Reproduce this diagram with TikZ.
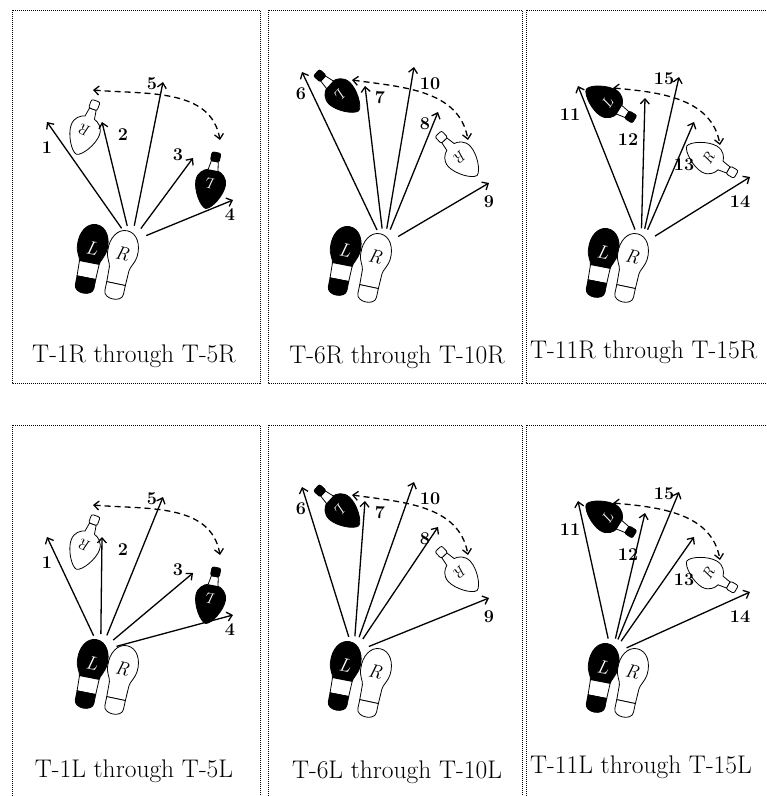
\documentclass[tikz,border=0pt]{standalone}
\usepackage{fontspec}
\usetikzlibrary{arrows.meta}

\tikzset{
  pics/footprint/.style n args={3}{code={
      % standing foot, toe up: sole, arch and heel
      \fill[#1] (0,35) .. controls (10,35) and (16,24) .. (15,12)
        .. controls (14,4) and (10,0) .. (10,-4) -- (-10,-4)
        .. controls (-10,0) and (-15,4) .. (-15,12)
        .. controls (-16,24) and (-10,35) .. (0,35) -- cycle;
      \draw (0,35) .. controls (10,35) and (16,24) .. (15,12)
        .. controls (14,4) and (10,0) .. (10,-4) -- (9.5,-19) -- (-9.5,-19) -- (-10,-4)
        .. controls (-10,0) and (-15,4) .. (-15,12)
        .. controls (-16,24) and (-10,35) .. (0,35) -- cycle;
      \draw[fill=#1] (9.5,-19) -- (9.5,-28) .. controls (9.5,-37) and (-9.5,-37) .. (-9.5,-28) -- (-9.5,-19) -- cycle;
      \node[circle, minimum size=32pt, inner sep=0pt] (-toe) at (6,25) {};
      \node[text=#2, font=\itshape\fontsize{19}{19}\selectfont, transform shape] (-tag) at (0,11) {#3};
  }},
  pics/pivotprint/.style n args={3}{code={
      % turned foot, toe up: sole, waist and heel tip
      \fill[#1] (0,28) .. controls (6,27) and (15,12) .. (15,2)
        .. controls (15,-6) and (9,-10) .. (5,-11) -- (-5,-11)
        .. controls (-9,-10) and (-15,-6) .. (-15,2)
        .. controls (-15,12) and (-6,27) .. (0,28) -- cycle;
      \draw (0,28) .. controls (6,27) and (15,12) .. (15,2)
        .. controls (15,-6) and (9,-10) .. (5,-11) -- (3.5,-20) -- (-3.5,-20) -- (-5,-11)
        .. controls (-9,-10) and (-15,-6) .. (-15,2)
        .. controls (-15,12) and (-6,27) .. (0,28) -- cycle;
      \draw[fill=#1, rounded corners=2pt] (-4.5,-20) rectangle (4.5,-29);
      \node[text=#2, font=\itshape\fontsize{15}{15}\selectfont, transform shape] (-tag) at (0,3) {#3};
  }}
}

\begin{document}
\begin{tikzpicture}[x=1pt, y=1pt,
    every pic/.style={line width=0.8pt},
    walk/.style={line width=1.3pt, -{Straight Barb[length=5pt, width=9pt]}},
    swing/.style={line width=1.3pt, dash pattern=on 6pt off 4pt,
      {Straight Barb[length=5pt, width=9pt]}-{Straight Barb[length=5pt, width=9pt]}},
    num/.style={font=\bfseries\fontsize{18}{18}\selectfont, inner sep=0pt},
    caption/.style={font=\fontsize{25.5}{26}\selectfont, inner sep=0pt},
    frame/.style={densely dotted, line width=1pt}]
\useasboundingbox (0,0) rectangle (767,-796);

% top row turns on the right foot, bottom row on the left foot
\foreach \f/\row/\dy in {R/a/0, L/b/-415} {
  \begin{scope}[shift={(0,\dy)}]
    \draw[frame] (12,-10) rectangle (260,-383);
    \draw[frame] (268,-10) rectangle (522,-383);
    \draw[frame] (526,-10) rectangle (790,-383);

    % turns 1 to 5
    \pic[rotate=-11] (\row1L) at (90,-259) {footprint={black}{white}{L}};
    \pic[rotate=-12] (\row1R) at (120,-265) {footprint={white}{black}{R}};
    \pic[rotate=160] (turn\row1R) at (86,-128) {pivotprint={white}{black}{R}};
    \pic[rotate=169] (turn\row1L) at (211,-181) {pivotprint={black}{white}{L}};
    \coordinate (from\row1) at (93,-90);
    \coordinate (to\row1) at (220,-140);
    \draw[swing] (from\row1) to[out=-5, in=100] (to\row1);

    \coordinate (tip\row1) at (47,-122);
    \coordinate (tip\row2) at (102,-122);
    \coordinate (tip\row5) at (163,-82);
    \coordinate (tip\row3) at (193,-158);
    \coordinate (tip\row4) at (233,-200);
    \node[num] (num\row1) at (47,-148) {1};
    \node[num] (num\row2) at (123,-135) {2};
    \node[num] (num\row5) at (152,-84) {5};
    \node[num] (num\row3) at (178,-155) {3};
    \node[num] (num\row4) at (230,-215) {4};
    \draw[walk] (\row1\f-toe) -- (tip\row1);
    \draw[walk] (\row1\f-toe) -- (tip\row2);
    \draw[walk] (\row1\f-toe) -- (tip\row5);
    \draw[walk] (\row1\f-toe) -- (tip\row3);
    \draw[walk] (\row1\f-toe) -- (tip\row4);
    \node[caption] (cap\row1) at (134,-356) {T-1\f{} through T-5\f};

    % turns 6 to 10
    \pic[rotate=-11] (\row2L) at (343,-261) {footprint={black}{white}{L}};
    \pic[rotate=-12] (\row2R) at (373,-268) {footprint={white}{black}{R}};
    \pic[rotate=-132] (turn\row2L) at (338,-92) {pivotprint={black}{white}{L}};
    \pic[rotate=-137] (turn\row2R) at (458,-155) {pivotprint={white}{black}{R}};
    \coordinate (from\row2) at (352,-80);
    \coordinate (to\row2) at (468,-140);
    \draw[swing] (from\row2) to[out=-8, in=100] (to\row2);

    \coordinate (tip\row6) at (302,-72);
    \coordinate (tip\row7) at (365,-86);
    \coordinate (tip\row10) at (414,-67);
    \coordinate (tip\row8) at (438,-112);
    \coordinate (tip\row9) at (489,-183);
    \node[num] (num\row6) at (301,-94) {6};
    \node[num] (num\row7) at (380,-98) {7};
    \node[num] (num\row10) at (430,-84) {10};
    \node[num] (num\row8) at (425,-124) {8};
    \node[num] (num\row9) at (489,-202) {9};
    \draw[walk] (\row2\f-toe) -- (tip\row6);
    \draw[walk] (\row2\f-toe) -- (tip\row7);
    \draw[walk] (\row2\f-toe) -- (tip\row10);
    \draw[walk] (\row2\f-toe) -- (tip\row8);
    \draw[walk] (\row2\f-toe) -- (tip\row9);
    \node[caption] (cap\row2) at (397,-357) {T-6\f{} through T-10\f};

    % turns 11 to 15
    \pic[rotate=-11] (\row3L) at (601,-263) {footprint={black}{white}{L}};
    \pic[rotate=-12] (\row3R) at (630,-268) {footprint={white}{black}{R}};
    \pic[rotate=58] (turn\row3L) at (610,-104) {pivotprint={black}{white}{L}};
    \pic[rotate=60] (turn\row3R) at (711,-160) {pivotprint={white}{black}{R}};
    \coordinate (from\row3) at (613,-88);
    \coordinate (to\row3) at (720,-145);
    \draw[swing] (from\row3) to[out=-5, in=100] (to\row3);

    \coordinate (tip\row11) at (578,-86);
    \coordinate (tip\row12) at (645,-98);
    \coordinate (tip\row15) at (679,-77);
    \coordinate (tip\row13) at (694,-122);
    \coordinate (tip\row14) at (750,-177);
    \node[num] (num\row11) at (570,-115) {11};
    \node[num] (num\row12) at (628,-140) {12};
    \node[num] (num\row15) at (664,-79) {15};
    \node[num] (num\row13) at (684,-165) {13};
    \node[num] (num\row14) at (740,-202) {14};
    \draw[walk] (\row3\f-toe) -- (tip\row11);
    \draw[walk] (\row3\f-toe) -- (tip\row12);
    \draw[walk] (\row3\f-toe) -- (tip\row15);
    \draw[walk] (\row3\f-toe) -- (tip\row13);
    \draw[walk] (\row3\f-toe) -- (tip\row14);
    \node[caption, anchor=west] (cap\row3) at (530,-352) {T-11\f{} through T-15\f};
  \end{scope}
}
\end{tikzpicture}
\end{document}
